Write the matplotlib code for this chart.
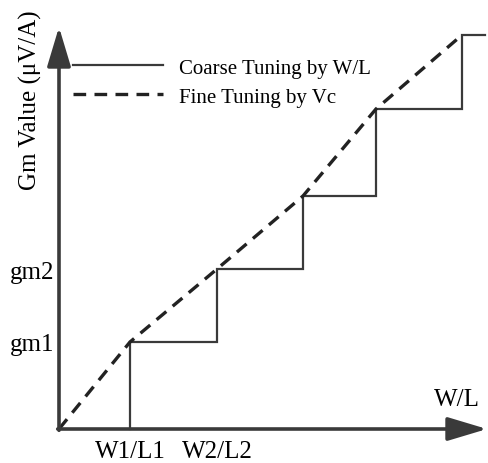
import matplotlib
matplotlib.use("Agg")
import matplotlib.pyplot as plt

plt.rcParams['font.family'] = ['Liberation Serif', 'DejaVu Serif']

# step positions (W/L) and the Gm reached at each step
step_wl = [71, 158, 244, 317, 403]
step_gm = [87, 160, 233, 320, 394]
wl_end = 426

wl_ticks = [step_wl[0], step_wl[1]]
wl_labels = ['W1/L1', 'W2/L2']
gm_ticks = [step_gm[0], step_gm[1]]
gm_labels = ['gm1', 'gm2']

ink = '#3a3a3a'
fs = 18
fs_leg = 15

W, H = 489, 464
fig = plt.figure(figsize=(W / 100, H / 100), dpi=100)
ox, oy = 59, 34
ax = fig.add_axes([ox / W, oy / H, (W - ox) / W, (H - oy) / H])
ax.set_xlim(0, W - ox)
ax.set_ylim(0, H - oy)
for s in ax.spines.values():
    s.set_visible(False)

# coarse tuning: staircase
xs = [step_wl[0]]
ys = [0]
for i, (x, g) in enumerate(zip(step_wl, step_gm)):
    xs += [x]
    ys += [g]
    nxt = step_wl[i + 1] if i + 1 < len(step_wl) else wl_end
    xs += [nxt]
    ys += [g]
ax.plot(xs, ys, color=ink, lw=1.6, solid_joinstyle='miter', clip_on=False,
        label='Coarse Tuning by W/L')

# fine tuning: continuous line through the step corners
ax.plot([0] + step_wl, [0] + step_gm, color='#222222', lw=2.4,
        dashes=(3.8, 2.5), clip_on=False, label='Fine Tuning by Vc')

# axes with arrow heads
arrow = dict(arrowstyle='-|>,head_length=1.1,head_width=0.33', lw=2.6,
             color=ink, mutation_scale=22, shrinkA=0, shrinkB=0)
ax.annotate('', xy=(428, 0), xytext=(-1.3, 0), arrowprops=arrow,
            annotation_clip=False)
ax.annotate('', xy=(0, 402), xytext=(0, -1.3), arrowprops=arrow,
            annotation_clip=False)

ax.set_xticks(wl_ticks, wl_labels, fontsize=fs)
ax.set_yticks(gm_ticks, gm_labels, fontsize=fs)
ax.tick_params(axis='x', length=0, pad=8, colors='black')
ax.tick_params(axis='y', length=0, pad=3, colors='black')

ax.text(398, 30, 'W/L', fontsize=fs, ha='center', va='center')
ax.set_ylabel('Gm Value (μV/A)', fontsize=fs)
ax.yaxis.set_label_coords(-17 / (W - ox), 0.767)

ax.legend(loc='upper left', bbox_to_anchor=(14 / (W - ox), 371 / (H - oy)),
          frameon=False, fontsize=fs_leg, handlelength=4.3, handletextpad=0.8,
          labelspacing=0.45, borderpad=0, borderaxespad=0)

fig.savefig('out.png', dpi=100, facecolor='white')
